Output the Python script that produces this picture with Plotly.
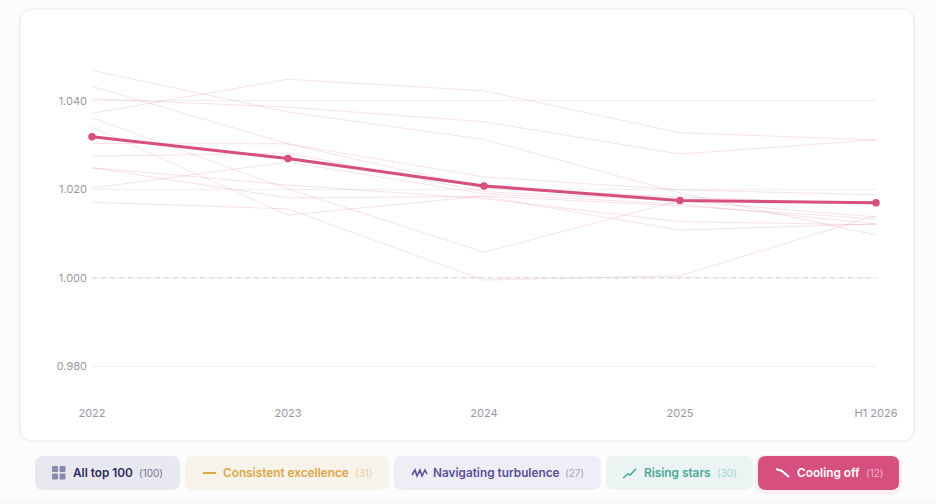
import plotly.graph_objects as go

# Values
periods = ["2022", "2023", "2024", "2025", "H1 2026"]
y_ticks = [0.98, 1.0, 1.02, 1.04]
y_tick_labels = ["0.980", "1.000", "1.020", "1.040"]

company_a = [1.0469, 1.0375, 1.0313, 1.0192, 1.0097]
company_b = [1.0433, 1.0303, 1.0228, 1.0199, 1.0188]
company_c = [1.0405, 1.0386, 1.0353, 1.0280, 1.0312]
company_d = [1.0372, 1.0449, 1.0423, 1.0328, 1.0312]
company_e = [1.0362, 1.0201, 1.0058, 1.0175, 1.0169]
company_f = [1.0341, 1.0142, 1.0185, 1.0163, 1.0133]
company_g = [1.0304, 1.0303, 1.0203, 1.0183, 1.0167]
company_h = [1.0275, 1.0282, 1.0195, 1.0174, 1.0138]
company_i = [1.0249, 1.0210, 1.0179, 1.0127, 1.0120]
company_j = [1.0249, 1.0181, 1.0184, 1.0108, 1.0122]
company_k = [1.0203, 1.0262, 1.0190, 1.0167, 1.0122]
company_l = [1.0171, 1.0156, 0.9995, 1.0005, 1.0141]
average = [1.0319, 1.0270, 1.0208, 1.0175, 1.0170]
baseline = [1.0, 1.0, 1.0, 1.0, 1.0]

companies = [company_a, company_b, company_c, company_d, company_e, company_f,
             company_g, company_h, company_i, company_j, company_k, company_l]

filter_labels = ["All top 100", "Consistent excellence", "Navigating turbulence", "Rising stars", "Cooling off"]
filter_counts = ["(100)", "(31)", "(27)", "(30)", "(12)"]

PINK = "#d64f7e"
PLOT_L, PLOT_R, PLOT_T, PLOT_B = 92, 876, 20, 400
FONT = "Inter"


# plot area is the paper, so pixel positions of the page get converted here
def px(x):
    return (x - PLOT_L) / (PLOT_R - PLOT_L)


def py(y):
    return (PLOT_B - y) / (PLOT_B - PLOT_T)


def round_rect(x0, y0, x1, y1, r, fill, line=None, layer="below"):
    p = (f"M {px(x0 + r)} {py(y0)} L {px(x1 - r)} {py(y0)} Q {px(x1)} {py(y0)} {px(x1)} {py(y0 + r)} "
         f"L {px(x1)} {py(y1 - r)} Q {px(x1)} {py(y1)} {px(x1 - r)} {py(y1)} "
         f"L {px(x0 + r)} {py(y1)} Q {px(x0)} {py(y1)} {px(x0)} {py(y1 - r)} "
         f"L {px(x0)} {py(y0 + r)} Q {px(x0)} {py(y0)} {px(x0 + r)} {py(y0)} Z")
    return dict(type="path", xref="paper", yref="paper", path=p, fillcolor=fill,
                line=dict(color=line or fill, width=1 if line else 0), layer=layer)


def polyline(points, color, width=1.6):
    p = "M " + " L ".join(f"{px(x)} {py(y)}" for x, y in points)
    return dict(type="path", xref="paper", yref="paper", path=p,
                line=dict(color=color, width=width), layer="above")


fig = go.Figure()

for i, values in enumerate(companies):
    fig.add_trace(go.Scatter(
        x=periods,
        y=values,
        mode="lines",
        name=f"Company {i + 1}",
        line=dict(color="rgba(214,79,126,0.17)", width=1),
        showlegend=False,
        cliponaxis=False
    ))

fig.add_trace(go.Scatter(
    x=periods,
    y=baseline,
    mode="lines",
    name="Baseline",
    line=dict(color="#d9d5e2", width=1.2, dash="5px,4px"),
    showlegend=False,
    hoverinfo="skip"
))

fig.add_trace(go.Scatter(
    x=periods,
    y=average,
    mode="lines+markers",
    name="Cooling off",
    line=dict(color=PINK, width=3),
    marker=dict(color=PINK, size=7.5),
    showlegend=False,
    cliponaxis=False
))

# card + pills
shapes = [
    round_rect(-2, 499, 938, 506, 0.1, "#f6f6f8"),
    round_rect(18, 8, 916, 443, 15, "#f8f8fa"),
    round_rect(20, 9, 914, 441, 14, "#ffffff", line="#ebebf2"),
    round_rect(755, 455, 902, 494, 10, "#fbeef2"),
]

pills = [
    (35, 180, "#e8e8f1", "#2d2b5f", "#77758f", 71, 137),
    (185, 389, "#f8f3ea", "#dba646", "#e8cf9f", 221, 353),
    (394, 601, "#efeef6", "#5b5098", "#a7a2c8", 431, 563),
    (606, 753, "#ebf4f3", "#4aa898", "#a6d4cc", 642, 715),
    (758, 899, PINK, "#ffffff", "#f0b4c9", 795, 864),
]

annotations = []
for (x0, x1, bg, txt, cnt, tx, cx), label, count in zip(pills, filter_labels, filter_counts):
    shapes.append(round_rect(x0, 456, x1, 490, 8, bg))
    annotations.append(dict(
        xref="paper", yref="paper", x=px(tx), y=py(473), text=label, showarrow=False,
        xanchor="left", yanchor="middle", font=dict(family=FONT, size=11.8, color=txt, weight=600)
    ))
    annotations.append(dict(
        xref="paper", yref="paper", x=px(cx), y=py(473), text=count, showarrow=False,
        xanchor="left", yanchor="middle", font=dict(family=FONT, size=10, color=cnt)
    ))

# pill icons
for sx, sy in [(52, 466), (59.5, 466), (52, 473.5), (59.5, 473.5)]:
    shapes.append(round_rect(sx, sy, sx + 6, sy + 6, 1, "#8b89a8", layer="above"))
shapes.append(polyline([(203, 473), (216, 473)], "#dba646", 2))
shapes.append(polyline([(412, 475), (415, 470), (417, 476), (420, 470), (422, 476), (425, 470), (427, 474)], "#5b5098", 1.6))
shapes.append(polyline([(623, 478), (628, 474), (630, 475), (636, 469)], "#4aa898", 1.6))
shapes.append(polyline([(776, 469), (782, 471), (789, 477)], "#ffffff", 2))

fig.update_layout(
    width=936,
    height=504,
    margin=dict(l=PLOT_L, r=936 - PLOT_R, t=PLOT_T, b=504 - PLOT_B, autoexpand=False),
    paper_bgcolor="#fcfcfd",
    plot_bgcolor="rgba(0,0,0,0)",
    font=dict(family=FONT, size=11, color="#9a98a8"),
    shapes=shapes,
    annotations=annotations,
    showlegend=False
)

fig.update_xaxes(
    type="category",
    categoryorder="array",
    categoryarray=periods,
    range=[0, 4],
    showgrid=False,
    zeroline=False,
    showline=False,
    ticks="",
    ticklabelstandoff=5,
    tickfont=dict(family=FONT, size=11, color="#9a98a8")
)
fig.update_yaxes(
    range=[0.9724, 1.0583],
    tickvals=y_ticks,
    ticktext=y_tick_labels,
    showgrid=True,
    gridcolor="#f1f1f4",
    gridwidth=1,
    zeroline=False,
    showline=False,
    ticks="",
    ticklabelstandoff=4,
    tickfont=dict(family=FONT, size=11, color="#9a98a8")
)

# browser default body margin would push the chart 8px off
fig.write_html(
    "out.html",
    config={"displayModeBar": False},
    post_script="document.body.style.margin='0';document.body.style.overflow='hidden';"
)
